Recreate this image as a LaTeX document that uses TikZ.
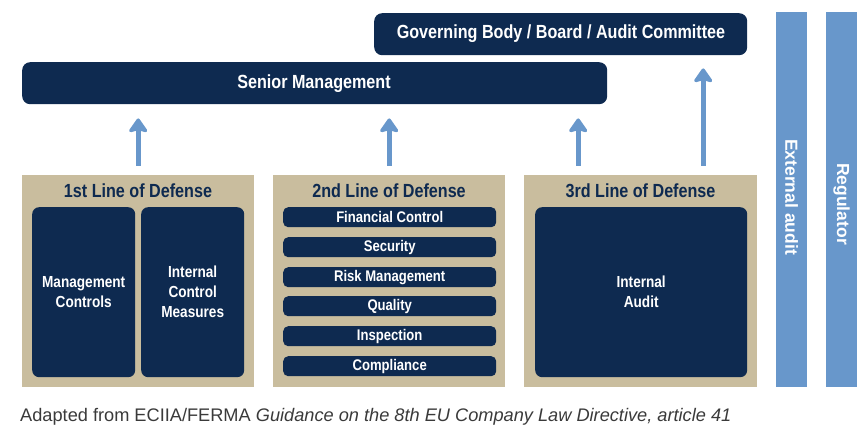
\documentclass[tikz,border=0pt]{standalone}
\usepackage{fontspec}
\setmainfont{Liberation Sans}
\newfontfamily\condf[FakeStretch=0.85]{Liberation Sans}
\usetikzlibrary{arrows.meta,calc}
\definecolor{navy}{HTML}{0E2A50}
\definecolor{tan}{HTML}{C9BD9E}
\definecolor{lblue}{HTML}{6897CB}
\definecolor{captc}{HTML}{3A3A3A}
\tikzset{
  darkbar/.style={fill=navy, rounded corners=8pt, inner sep=0pt},
  bartxt/.style={text=white, font=\condf\bfseries\fontsize{19}{21}\selectfont, inner sep=0pt},
  tanbox/.style={fill=tan, inner sep=0pt},
  inbox/.style={fill=navy, rounded corners=7pt, text=white, align=center, font=\condf\bfseries\fontsize{16}{20}\selectfont, inner sep=0pt},
  rowbox/.style={fill=navy, rounded corners=5pt, text=white, font=\condf\bfseries\fontsize{15.4}{16}\selectfont, inner sep=0pt, minimum width=213pt, minimum height=20pt},
  ttl/.style={text=navy, font=\condf\bfseries\fontsize{19}{20}\selectfont, inner sep=0pt},
  sidebar/.style={fill=lblue, inner sep=0pt, minimum width=31pt, minimum height=375pt},
  sidetxt/.style={text=white, rotate=-90, font=\bfseries\fontsize{17.5}{20}\selectfont, inner sep=0pt},
  arr/.style={draw=lblue, line width=5pt, -{Stealth[length=16pt,width=22pt,inset=3pt,round]}},
}
\begin{document}
\begin{tikzpicture}[x=1pt,y=-1pt]
\useasboundingbox (0,0) rectangle (865,433);
% top bars
\node[darkbar, minimum width=373pt, minimum height=42pt, anchor=north west] (gov) at (374,13) {};
\node[bartxt] (govt) at (561,34) {Governing Body / Board / Audit Committee};
\node[darkbar, minimum width=585pt, minimum height=42pt, anchor=north west] (sm) at (22,62) {};
\node[bartxt] (smt) at (314,84) {Senior Management};
% tan boxes
\node[tanbox, minimum width=232pt, minimum height=212pt, anchor=north west] (d1) at (22,175) {};
\node[tanbox, minimum width=232pt, minimum height=212pt, anchor=north west] (d2) at (273,175) {};
\node[tanbox, minimum width=233pt, minimum height=212pt, anchor=north west] (d3) at (524,175) {};
\node[ttl] (t1) at (138,191) {1st Line of Defense};
\node[ttl] (t2) at (389,191) {2nd Line of Defense};
\node[ttl] (t3) at (640.5,191) {3rd Line of Defense};
% first line
\node[inbox, minimum width=103pt, minimum height=170pt, anchor=north west] (mc) at (32,207) {Management\\Controls};
\node[inbox, minimum width=103pt, minimum height=170pt, anchor=north west] (icm) at (141,207) {Internal\\Control\\Measures};
% second line
\node[rowbox, anchor=north west] (r1) at (283,207) {Financial Control};
\node[rowbox, anchor=north west] (r2) at (283,237) {Security};
\node[rowbox, anchor=north west] (r3) at (283,267) {Risk Management};
\node[rowbox, anchor=north west] (r4) at (283,296) {Quality};
\node[rowbox, anchor=north west] (r5) at (283,326) {Inspection};
\node[rowbox, anchor=north west] (r6) at (283,356) {Compliance};
% third line
\node[inbox, minimum width=212pt, minimum height=170pt, anchor=north west] (ia) at (535,207) {Internal\\Audit};
% side bars
\node[sidebar, anchor=north west] (ea) at (776,12) {};
\node[sidetxt] (eat) at (791.5,197) {External audit};
\node[sidebar, anchor=north west] (rg) at (826,12) {};
\node[sidetxt] (rgt) at (841.5,204) {Regulator};
% arrows
\draw[arr, shorten <=9pt, shorten >=14pt] (d1.north) -- (d1.north |- sm.south);
\draw[arr, shorten <=9pt, shorten >=14pt] (d2.north) -- (d2.north |- sm.south);
\coordinate (a3) at ([xshift=-62.5pt]d3.north);
\coordinate (a4) at ([xshift=62.5pt]d3.north);
\draw[arr, shorten <=9pt, shorten >=14pt] (a3) -- (a3 |- sm.south);
\draw[arr, shorten <=9pt, shorten >=13pt] (a4) -- (a4 |- gov.south);
% caption
\node[anchor=west, text=captc, font=\fontsize{18.2}{20}\selectfont, inner sep=0pt] (cap) at (20,417) {Adapted from ECIIA/FERMA \textit{Guidance on the 8th EU Company Law Directive, article 41}};
\end{tikzpicture}
\end{document}
